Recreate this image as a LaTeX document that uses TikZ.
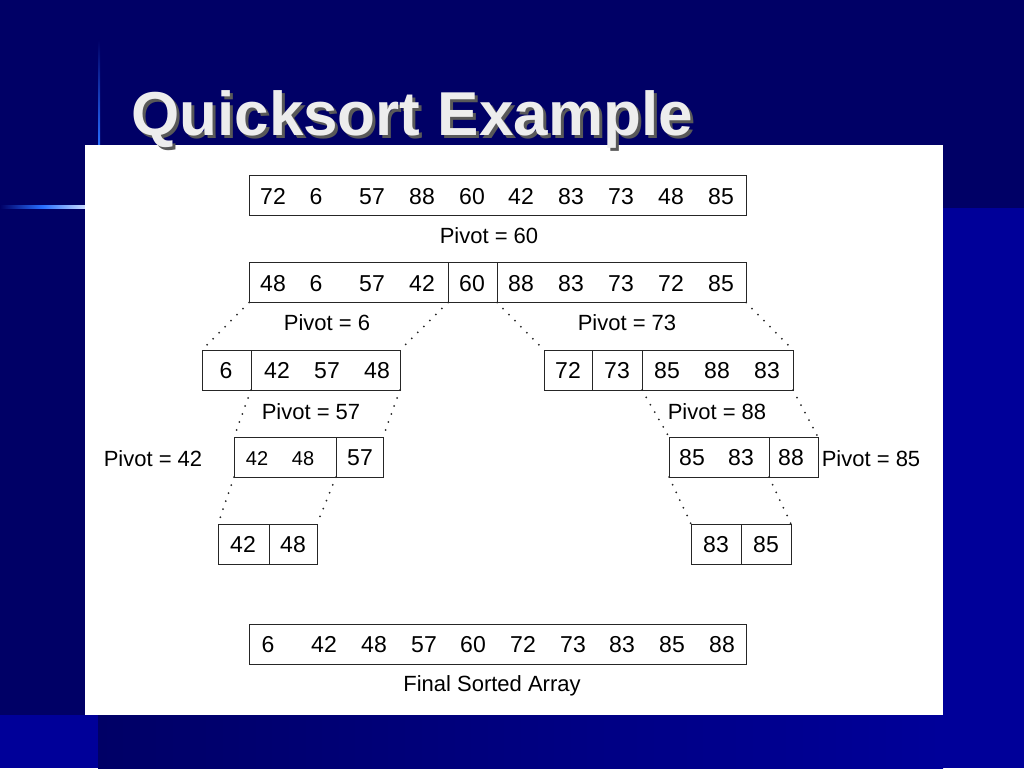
\documentclass[tikz,border=0pt]{standalone}
\usepackage{fontspec}
\setmainfont{Liberation Sans}
\definecolor{navy}{RGB}{0,0,102}
\definecolor{slideblue}{RGB}{0,0,153}
\definecolor{lineblue}{RGB}{40,110,255}
\tikzstyle{seg} = [draw=black!85, line width=1pt, inner sep=0pt, outer sep=0pt, minimum height=40pt]
\tikzstyle{num} = [inner sep=0pt, text height=16.5pt, text depth=0pt, font=\fontsize{23}{27}\selectfont]
\tikzstyle{smallnum} = [inner sep=0pt, text height=14.3pt, text depth=0pt, font=\fontsize{20}{24}\selectfont]
\tikzstyle{lbl} = [inner sep=0pt, text height=15.8pt, text depth=0pt, font=\fontsize{22}{26}\selectfont]
\tikzstyle{heading} = [inner sep=0pt, anchor=base west, font=\fontsize{62}{70}\selectfont\bfseries]
\tikzstyle{split} = [line width=2pt, black!85, dash pattern=on 0pt off 8.5pt, line cap=round]

\begin{document}
\begin{tikzpicture}[x=1pt, y=-1pt]
        \useasboundingbox (0,0) rectangle (1024,768);
        % slide background
        \fill[navy] (0,0) rectangle (1024,768);
        \fill[slideblue] (943,208) rectangle (1024,768);
        \fill[slideblue] (0,715) rectangle (98,768);
        \shade[left color=navy, right color=slideblue] (98,715) rectangle (943,768);
        \shade[top color=navy, bottom color=lineblue] (98,40) rectangle (100,145);
        \shade[left color=navy, right color=white!75!lineblue, middle color=lineblue] (0,205) rectangle (85,208);
        \fill[white] (85,145) rectangle (943,715);

        \node[heading, text=black!65] at (134,138) (shadow) {Quicksort Example};
        \node[heading, text=white!93!black] at (131,135) (title) {Quicksort Example};

        % segments
        \node[seg, minimum width=497pt] at (497.5,195.5) (a1) {};
        \node[seg, minimum width=199pt] at (348.5,282.5) (b1) {};
        \node[seg, minimum width=49pt] at (472.5,282.5) (b2) {};
        \node[seg, minimum width=249pt] at (621.5,282.5) (b3) {};
        \node[seg, minimum width=49pt] at (226.5,370) (c1) {};
        \node[seg, minimum width=149pt] at (325.5,370) (c2) {};
        \node[seg, minimum width=48pt] at (568,370) (c3) {};
        \node[seg, minimum width=50pt] at (617,370) (c4) {};
        \node[seg, minimum width=151pt] at (717.5,370) (c5) {};
        \node[seg, minimum width=102pt] at (285,457) (d1) {};
        \node[seg, minimum width=47pt] at (359.5,457) (d2) {};
        \node[seg, minimum width=100pt] at (719,457) (d3) {};
        \node[seg, minimum width=49pt] at (793.5,457) (d4) {};
        \node[seg, minimum width=51pt] at (243.5,544) (e1) {};
        \node[seg, minimum width=48pt] at (293,544) (e2) {};
        \node[seg, minimum width=50pt] at (716,544) (e3) {};
        \node[seg, minimum width=50pt] at (766,544) (e4) {};
        \node[seg, minimum width=497pt] at (497.5,644) (f1) {};

        % numbers
        \node[num] at (273,196) (na72) {72};
        \node[num] at (316,196) (na6) {6};
        \node[num] at (372,196) (na57) {57};
        \node[num] at (422,196) (na88) {88};
        \node[num] at (472,196) (na60) {60};
        \node[num] at (521,196) (na42) {42};
        \node[num] at (571,196) (na83) {83};
        \node[num] at (621,196) (na73) {73};
        \node[num] at (671,196) (na48) {48};
        \node[num] at (721,196) (na85) {85};

        \node[num] at (273,283) (nb48) {48};
        \node[num] at (316,283) (nb6) {6};
        \node[num] at (372,283) (nb57) {57};
        \node[num] at (422,283) (nb42) {42};
        \node[num] at (472,283) (nb60) {60};
        \node[num] at (521,283) (nb88) {88};
        \node[num] at (571,283) (nb83) {83};
        \node[num] at (621,283) (nb73) {73};
        \node[num] at (671,283) (nb72) {72};
        \node[num] at (721,283) (nb85) {85};

        \node[num] at (226,370.5) (nc6) {6};
        \node[num] at (277,370.5) (nc42) {42};
        \node[num] at (327,370.5) (nc57) {57};
        \node[num] at (377,370.5) (nc48) {48};
        \node[num] at (568,370.5) (nc72) {72};
        \node[num] at (617,370.5) (nc73) {73};
        \node[num] at (667,370.5) (nc85) {85};
        \node[num] at (717,370.5) (nc88) {88};
        \node[num] at (767,370.5) (nc83) {83};

        \node[smallnum] at (257,458) (nd42) {42};
        \node[smallnum] at (303,458) (nd48) {48};
        \node[num] at (360,457.5) (nd57) {57};
        \node[num] at (692,457.5) (nd85) {85};
        \node[num] at (741,457.5) (nd83) {83};
        \node[num] at (791,457.5) (nd88) {88};

        \node[num] at (243,544.5) (ne42) {42};
        \node[num] at (293,544.5) (ne48) {48};
        \node[num] at (716,544.5) (ne83) {83};
        \node[num] at (766,544.5) (ne85) {85};

        \node[num] at (268,644.5) (nf6) {6};
        \node[num] at (324,644.5) (nf42) {42};
        \node[num] at (374,644.5) (nf48) {48};
        \node[num] at (424,644.5) (nf57) {57};
        \node[num] at (473,644.5) (nf60) {60};
        \node[num] at (523,644.5) (nf72) {72};
        \node[num] at (573,644.5) (nf73) {73};
        \node[num] at (622,644.5) (nf83) {83};
        \node[num] at (672,644.5) (nf85) {85};
        \node[num] at (722,644.5) (nf88) {88};

        % pivots
        \node[lbl] at (489,236) (p60) {Pivot = 60};
        \node[lbl] at (327,323) (p6) {Pivot = 6};
        \node[lbl] at (627,323) (p73) {Pivot = 73};
        \node[lbl] at (311,412) (p57) {Pivot = 57};
        \node[lbl] at (717,412) (p88) {Pivot = 88};
        \node[lbl] at (153,459) (p42) {Pivot = 42};
        \node[lbl] at (871,459) (p85) {Pivot = 85};
        \node[lbl] at (492,684) (final) {Final Sorted Array};

        \draw[split] (b1.south west) -- (c1.north west);
        \draw[split] (b1.south east) -- (c2.north east);
        \draw[split] (b3.south west) -- (c3.north west);
        \draw[split] (b3.south east) -- (c5.north east);
        \draw[split] (c2.south west) -- (d1.north west);
        \draw[split] (c2.south east) -- (d2.north east);
        \draw[split] (c5.south west) -- (d3.north west);
        \draw[split] (c5.south east) -- (d4.north east);
        \draw[split] (d1.south west) -- (e1.north west);
        \draw[split] (d1.south east) -- (e2.north east);
        \draw[split] (d3.south west) -- (e3.north west);
        \draw[split] (d3.south east) -- (e4.north east);

    \end{tikzpicture}
\end{document}
